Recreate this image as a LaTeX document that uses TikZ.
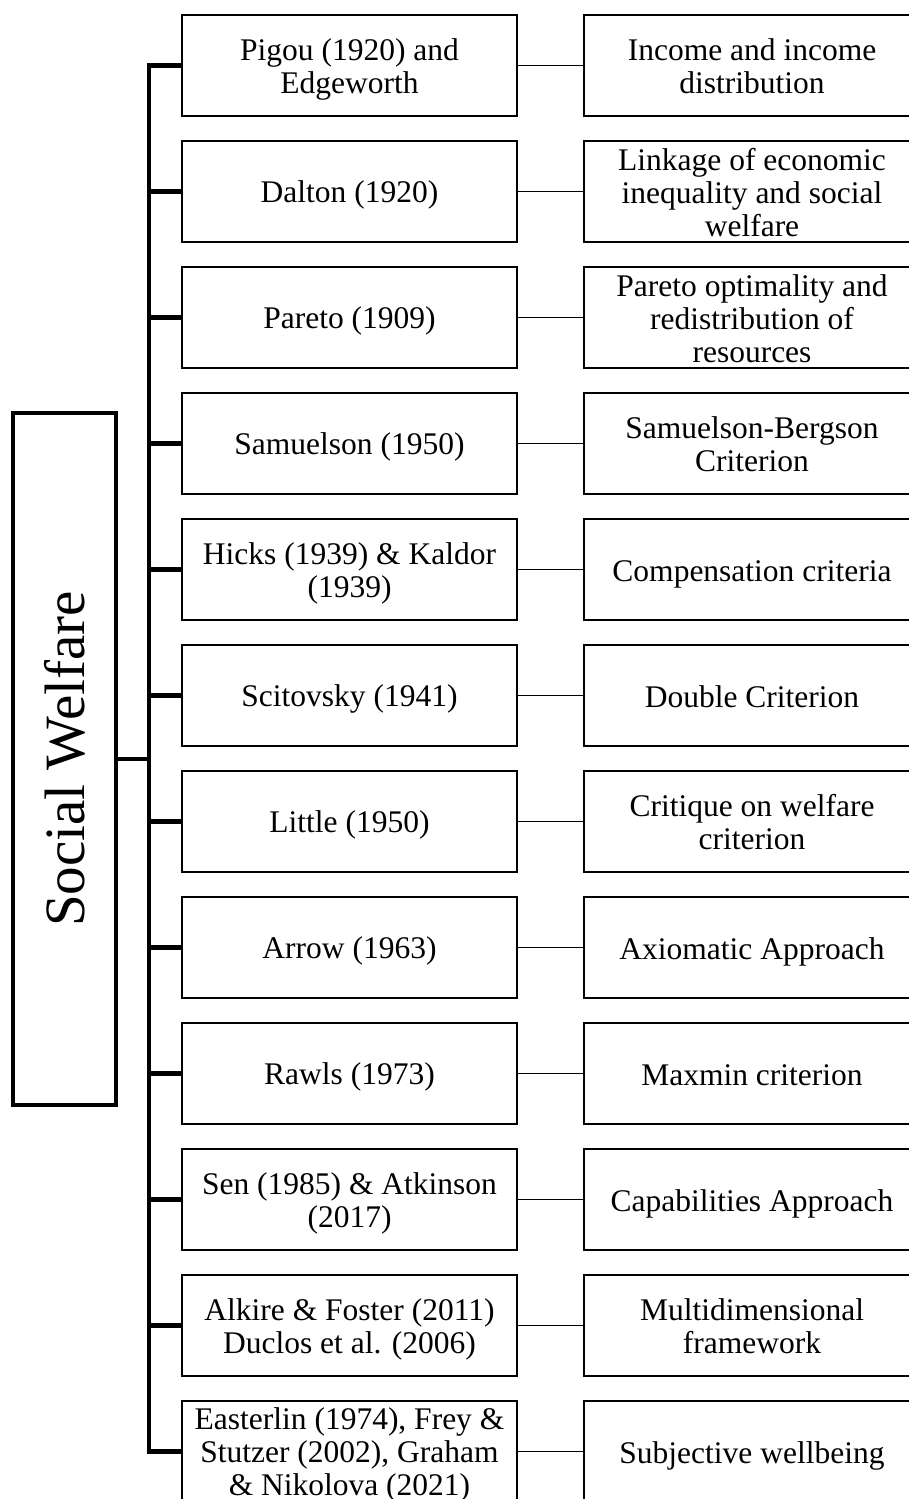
\documentclass[tikz,border=0pt]{standalone}
\usepackage{fontspec}
\setmainfont{Liberation Serif}
\begin{document}
\begin{tikzpicture}[x=1pt,y=-1pt,
  box/.style={draw=black,line width=1.8pt,fill=white,inner sep=0pt,
    minimum height=101pt},
  author/.style={box,minimum width=335pt},
  topic/.style={box,minimum width=336pt},
  lbl/.style={inner sep=0pt,align=center,
    font=\fontsize{31.5}{33}\selectfont},
  rootbox/.style={draw=black,line width=4.2pt,inner sep=0pt,
    minimum width=103pt,minimum height=692pt,
    font=\fontsize{57}{60}\selectfont},
  trunk/.style={line width=4.2pt},
  link/.style={line width=1.8pt}]
\useasboundingbox (0,0) rectangle (909,1499);

% root node
\node[rootbox] (sw) at (64.5,759) {\rotatebox{90}{Social Welfare}};

% rows: author boxes on the left, topics on the right
\foreach \i/\a/\t in {
  0/{Pigou (1920) and\\Edgeworth}/{Income and income\\distribution},
  1/{Dalton (1920)}/{Linkage of economic\\inequality and social\\welfare},
  2/{Pareto (1909)}/{Pareto optimality and\\redistribution of\\resources},
  3/{Samuelson (1950)}/{Samuelson-Bergson\\Criterion},
  4/{Hicks (1939) \& Kaldor\\(1939)}/{Compensation criteria},
  5/{Scitovsky (1941)}/{Double Criterion},
  6/{Little (1950)}/{Critique on welfare\\criterion},
  7/{Arrow (1963)}/{Axiomatic Approach},
  8/{Rawls (1973)}/{Maxmin criterion},
  9/{Sen (1985) \& Atkinson\\(2017)}/{Capabilities Approach},
  10/{Alkire \& Foster (2011)\\Duclos et al. (2006)}/{Multidimensional\\framework},
  11/{Easterlin (1974), Frey \&\\Stutzer (2002), Graham\\\& Nikolova (2021)}/{Subjective wellbeing}}{
  \node[author] (a\i) at (349.5,{65.5+126*\i}) {};
  \node[lbl] (al\i) at ([yshift=-4.5pt]a\i.center) {\strut\a\strut};
  \node[topic] (t\i) at (752,{65.5+126*\i}) {};
  \node[lbl] (tl\i) at ([yshift=-5pt]t\i.center) {\strut\t\strut};
  \draw[link] (a\i.east) -- (t\i.west);
  \coordinate (b\i) at ([xshift=-32pt]a\i.west);
  \draw[trunk] (b\i) -- (a\i.west);
}

% vertical spine and link from the root
\draw[trunk,line cap=rect] (b0) -- (b11);
\draw[trunk] (sw.east) -- (sw.east -| b0);
\end{tikzpicture}
\end{document}
